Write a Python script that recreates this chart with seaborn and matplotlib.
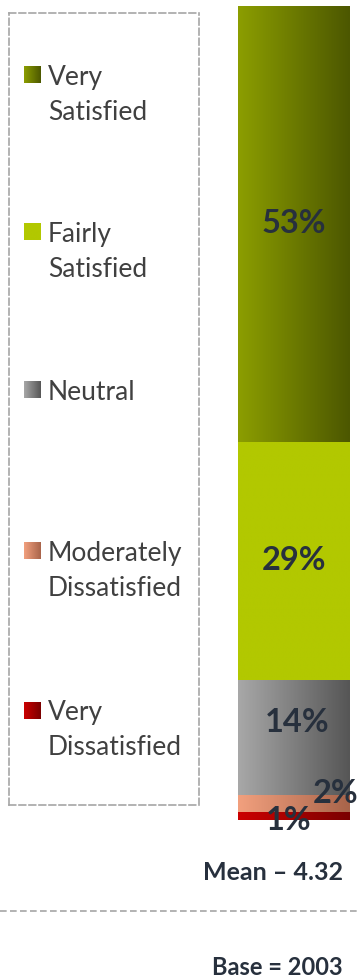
import numpy as np
import pandas as pd
import seaborn as sns
import matplotlib.pyplot as plt
from matplotlib.colors import LinearSegmentedColormap

# data (bottom to top)
levels = ["Very\nDissatisfied", "Moderately\nDissatisfied", "Neutral",
          "Fairly\nSatisfied", "Very\nSatisfied"]
pcts = [1, 2, 14, 29, 53]
mean_text = "Mean \u2013 4.32"
base_text = "Base = 2003"

# gradient colours (left, right) per level
grad_left = ["#cc0000", "#f2a07e", "#a8a8a8", "#b2c800", "#8c9e00"]
grad_right = ["#7a0000", "#a8644a", "#565656", "#b2c800", "#4c5700"]

sns.set_theme(style="white")
plt.rcParams["font.family"] = ["Lato", "DejaVu Sans"]

W, H = 359, 980
fig = plt.figure(figsize=(W / 100, H / 100), dpi=100)

df = pd.DataFrame({"level": levels, "pct": pcts})
df["top"] = df["pct"].cumsum()
df["bottom"] = df["top"] - df["pct"]
df["grp"] = "all"

# bar axes, placed in pixel terms
ax = fig.add_axes([238 / W, (H - 820) / H, 112 / W, 814 / H])
for i in reversed(range(len(df))):
    sns.barplot(data=df.iloc[[i]], x="grp", y="top", color=grad_left[i],
                width=1, ax=ax, saturation=1, zorder=1)

# gradient fill of each segment
ramp = np.linspace(0, 1, 256).reshape(1, -1)
for i, row in df.iterrows():
    cmap = LinearSegmentedColormap.from_list("g%d" % i, [grad_left[i], grad_right[i]])
    ax.imshow(ramp, cmap=cmap, aspect="auto", zorder=2,
              extent=(-0.5, 0.5, row["bottom"], row["top"]))

ax.set_xlim(-0.5, 0.5)
ax.set_ylim(0, df["top"].iloc[-1])
ax.set_axis_off()

# value labels
lab_dx = [-0.05, 0.37, 0.03, 0.0, 0.0]
lab_dy = [-0.5, 1.2, 1.9, 0.0, 0.0]
for i, row in df.iterrows():
    ax.text(lab_dx[i], row["bottom"] + row["pct"] / 2 + lab_dy[i],
            "%d%%" % row["pct"], ha="center", va="center", fontsize=23.5,
            fontweight="bold", color="#27303d", zorder=5)

# legend box
lax = fig.add_axes([9 / W, (H - 805) / H, 190 / W, 792 / H])
lax.set_xticks([])
lax.set_yticks([])
for s in lax.spines.values():
    s.set_linestyle((0, (4, 2)))
    s.set_color("#a6a6a6")
    s.set_linewidth(1.2)
lax.patch.set_alpha(0)

item_y = [697, 538, 377, 219, 62]
for i in range(len(levels)):
    cmap = LinearSegmentedColormap.from_list("l%d" % i, [grad_left[i], grad_right[i]])
    y0 = item_y[i]
    lax.imshow(ramp, cmap=cmap, aspect="auto", extent=(15, 32, y0 - 8.5, y0 + 8.5))
    lax.text(39, y0 - 10, levels[i], ha="left", va="top", fontsize=19,
             color="#404040", linespacing=1.5)
lax.set_xlim(0, 190)
lax.set_ylim(792, 0)

# footer
fig.text(343 / W, 1 - 872 / H, mean_text, ha="right", va="center",
         fontsize=18, fontweight="bold", color="#27303d")
fig.add_artist(plt.Line2D([0, 1], [1 - 911 / H] * 2, color="#a6a6a6",
                          linestyle=(0, (4, 2)), linewidth=1.2))
fig.text(343 / W, 1 - 967 / H, base_text, ha="right", va="center",
         fontsize=17, fontweight="bold", color="#27303d")

fig.savefig("out.png", dpi=100)
